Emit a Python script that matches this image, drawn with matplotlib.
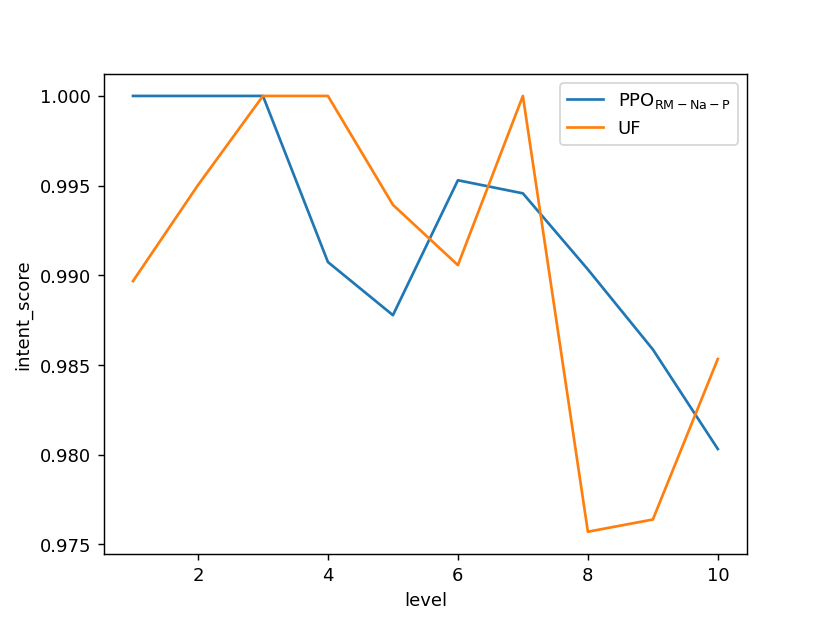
import matplotlib
matplotlib.use("Agg")
import matplotlib.pyplot as plt

levels = [1, 2, 3, 4, 5, 6, 7, 8, 9, 10]
ppo = [1.000, 1.000, 1.000, 0.99074, 0.98778, 0.99530, 0.99457, 0.99033, 0.98587, 0.98032]
uf = [0.98968, 0.99503, 1.000, 1.000, 0.99393, 0.99057, 1.000, 0.97571, 0.97639, 0.98534]

fig, ax = plt.subplots(figsize=(6.4, 4.8), dpi=129.7)
ax.plot(levels, ppo, label=r"PPO$_{\mathrm{RM-Na-P}}$")
ax.plot(levels, uf, label="UF")
ax.set_xlabel("level")
ax.set_ylabel("intent_score")
ax.legend(loc="upper right")
fig.savefig("out.png", dpi=129.7)
